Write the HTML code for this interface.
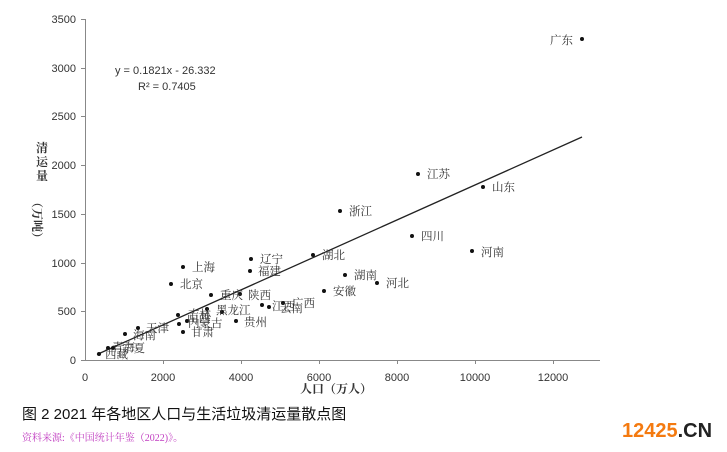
<!DOCTYPE html>
<html><head><meta charset="utf-8"><style>
body{margin:0;background:#fff;width:727px;height:452px;overflow:hidden;position:relative}
svg{position:absolute;left:0;top:0}
.t{font-family:"Liberation Sans","Noto Sans CJK SC",sans-serif;font-size:11px;fill:#333}
.c{font-family:"Liberation Serif","Noto Serif CJK SC",serif;font-size:11.5px;fill:#333}
</style></head><body>
<svg width="727" height="452" xmlns="http://www.w3.org/2000/svg">
<g stroke="#888" stroke-width="1" fill="none">
<line x1="85.5" y1="19" x2="85.5" y2="360.5"/>
<line x1="85" y1="360.5" x2="600" y2="360.5"/>
<g><line x1="81" y1="19.5" x2="85" y2="19.5"/><line x1="81" y1="68.5" x2="85" y2="68.5"/><line x1="81" y1="116.5" x2="85" y2="116.5"/><line x1="81" y1="165.5" x2="85" y2="165.5"/><line x1="81" y1="214.5" x2="85" y2="214.5"/><line x1="81" y1="263.5" x2="85" y2="263.5"/><line x1="81" y1="311.5" x2="85" y2="311.5"/><line x1="81" y1="360.5" x2="85" y2="360.5"/></g>
<g><line x1="163.5" y1="360" x2="163.5" y2="364"/><line x1="241.5" y1="360" x2="241.5" y2="364"/><line x1="319.5" y1="360" x2="319.5" y2="364"/><line x1="397.5" y1="360" x2="397.5" y2="364"/><line x1="475.5" y1="360" x2="475.5" y2="364"/><line x1="553.5" y1="360" x2="553.5" y2="364"/></g>
</g>
<g class="t" text-anchor="end">
<text x="76" y="23">3500</text><text x="76" y="72">3000</text><text x="76" y="120">2500</text><text x="76" y="169">2000</text><text x="76" y="218">1500</text><text x="76" y="267">1000</text><text x="76" y="315">500</text><text x="76" y="364">0</text>
</g>
<g class="t" text-anchor="middle">
<text x="85" y="381">0</text><text x="163" y="381">2000</text><text x="241" y="381">4000</text><text x="319" y="381">6000</text><text x="397" y="381">8000</text><text x="475" y="381">10000</text><text x="553" y="381">12000</text>
</g>
<line x1="97" y1="354.5" x2="582" y2="137" stroke="#222" stroke-width="1.3"/>
<text class="t" x="115" y="74">y = 0.1821x - 26.332</text>
<text class="t" x="138" y="90">R² = 0.7405</text>
<g fill="#111">
<circle cx="582" cy="39" r="2"/><circle cx="418" cy="174" r="2"/><circle cx="483" cy="187" r="2"/><circle cx="340" cy="211" r="2"/><circle cx="412" cy="236" r="2"/><circle cx="472" cy="251" r="2"/><circle cx="313" cy="255" r="2"/><circle cx="345" cy="275" r="2"/><circle cx="377" cy="283" r="2"/><circle cx="324" cy="291" r="2"/><circle cx="251" cy="259" r="2"/><circle cx="250" cy="271" r="2"/><circle cx="183" cy="267" r="2"/><circle cx="171" cy="284" r="2"/><circle cx="211" cy="295" r="2"/><circle cx="240" cy="294" r="2"/><circle cx="262" cy="305" r="2"/><circle cx="269" cy="307" r="2"/><circle cx="283" cy="303" r="2"/><circle cx="207" cy="309" r="2"/><circle cx="222" cy="312" r="2"/><circle cx="178" cy="315" r="2"/><circle cx="179" cy="324" r="2"/><circle cx="187" cy="321" r="2"/><circle cx="183" cy="332" r="2"/><circle cx="236" cy="321" r="2"/><circle cx="138" cy="328" r="2"/><circle cx="125" cy="334" r="2"/><circle cx="113" cy="348" r="2"/><circle cx="108" cy="348" r="2"/><circle cx="99" cy="354" r="2"/>
</g>
<g class="c">
<text x="550" y="44">广东</text><text x="427" y="178">江苏</text><text x="492" y="191">山东</text><text x="349" y="215">浙江</text><text x="421" y="240">四川</text><text x="481" y="256">河南</text><text x="322" y="259">湖北</text><text x="354" y="279">湖南</text><text x="386" y="287">河北</text><text x="333" y="295">安徽</text><text x="260" y="263">辽宁</text><text x="258" y="275">福建</text><text x="192" y="271">上海</text><text x="180" y="288">北京</text><text x="220" y="299">重庆</text><text x="248" y="299">陕西</text><text x="272" y="310">江西</text><text x="280" y="312">云南</text><text x="292" y="307">广西</text><text x="216" y="314">黑龙江</text><text x="188" y="318">吉林</text><text x="188" y="327">内蒙古</text><text x="187" y="322">山西</text><text x="191" y="336">甘肃</text><text x="244" y="326">贵州</text><text x="146" y="332">天津</text><text x="133" y="339">海南</text><text x="122" y="352">宁夏</text><text x="112" y="351">青海</text><text x="105" y="358">西藏</text>
</g>
<text class="c" style="font-size:12px;font-weight:bold" x="0" y="0" transform="translate(36,152)">
<tspan x="0" y="0">清</tspan><tspan x="0" y="14">运</tspan><tspan x="0" y="28">量</tspan></text>
<text style="font-family:'Noto Serif CJK SC',serif;font-size:12px;font-weight:bold;fill:#333" transform="translate(33,196) rotate(90)">（万吨）</text>
<text class="c" style="font-size:12px;font-weight:bold" x="300" y="393">人口（万人）</text>
<text style="font-family:'Liberation Sans','Noto Sans CJK SC',sans-serif;font-size:15px;fill:#111" x="22" y="419">图 2 2021 年各地区人口与生活垃圾清运量散点图</text>
<text style="font-family:'Liberation Serif','Noto Serif CJK SC',serif;font-size:10px;fill:#c03cc0" x="22" y="441">资料来源:《中国统计年鉴（2022)》。</text>
<text style="font-family:'Liberation Sans',sans-serif;font-size:20px;font-weight:bold;fill:#f47a10" x="622" y="437">12425<tspan fill="#222">.CN</tspan></text>
</svg>
</body></html>
